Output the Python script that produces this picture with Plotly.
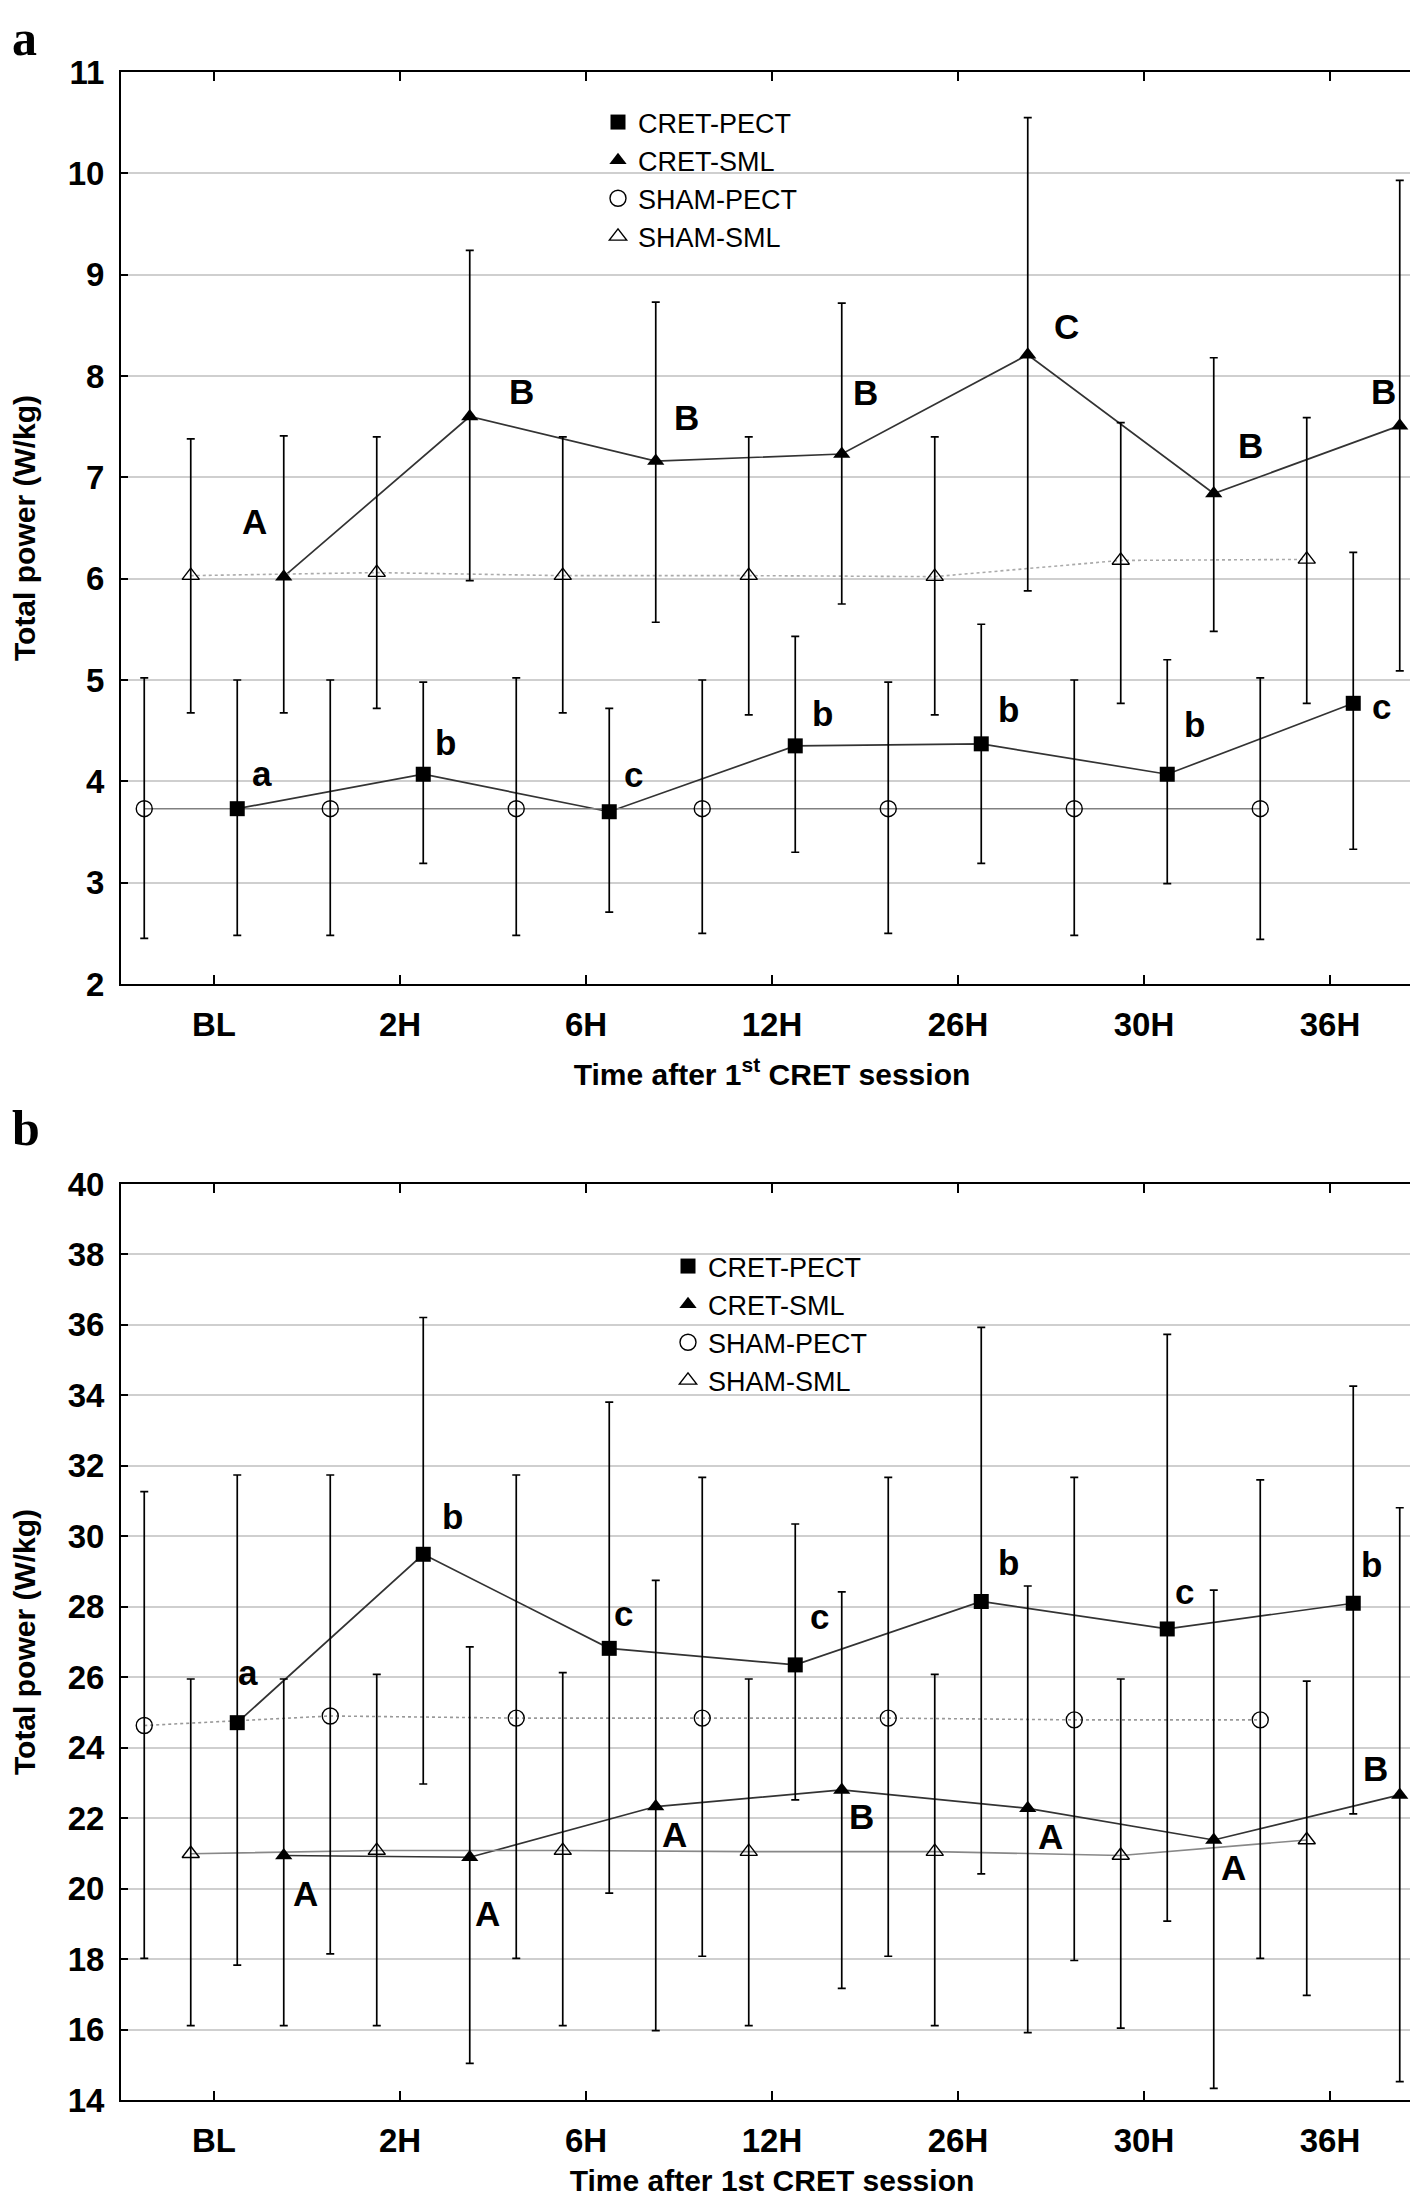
import plotly.graph_objects as go

# ---------------- data ----------------
categories = ["BL", "2H", "6H", "12H", "26H", "30H", "36H"]
series_names = ["CRET-PECT", "CRET-SML", "SHAM-PECT", "SHAM-SML"]

# Panel a
a_cret_pect_mean = [3.73, 4.07, 3.70, 4.35, 4.37, 4.07, 4.77]
a_cret_pect_hi = [5.00, 4.98, 4.72, 5.43, 5.55, 5.20, 6.26]
a_cret_pect_lo = [2.48, 3.19, 2.71, 3.30, 3.19, 2.99, 3.33]

a_cret_sml_mean = [6.02, 7.60, 7.16, 7.23, 8.21, 6.84, 7.51]
a_cret_sml_hi = [7.41, 9.24, 8.73, 8.72, 10.55, 8.18, 9.93]
a_cret_sml_lo = [4.675, 5.98, 5.57, 5.75, 5.88, 5.48, 5.09]

a_sham_pect_mean = [3.73, 3.73, 3.73, 3.73, 3.73, 3.73, 3.73]
a_sham_pect_hi = [5.02, 5.00, 5.02, 5.00, 4.98, 5.00, 5.02]
a_sham_pect_lo = [2.45, 2.48, 2.48, 2.50, 2.50, 2.48, 2.44]

a_sham_sml_mean = [6.03, 6.06, 6.03, 6.03, 6.02, 6.18, 6.19]
a_sham_sml_hi = [7.38, 7.40, 7.40, 7.40, 7.40, 7.54, 7.59]
a_sham_sml_lo = [4.675, 4.72, 4.675, 4.655, 4.655, 4.77, 4.77]

# Panel b
b_cret_pect_mean = [24.71, 29.49, 26.82, 26.35, 28.15, 27.37, 28.10]
b_cret_pect_hi = [31.74, 36.21, 33.81, 30.35, 35.93, 35.73, 34.26]
b_cret_pect_lo = [17.83, 22.97, 19.87, 22.52, 20.42, 19.08, 22.12]

b_cret_sml_mean = [20.94, 20.89, 22.33, 22.80, 22.28, 21.38, 22.66]
b_cret_sml_hi = [25.95, 26.86, 28.75, 28.42, 28.59, 28.47, 30.81]
b_cret_sml_lo = [16.11, 15.04, 15.97, 17.17, 15.91, 14.33, 14.52]

b_sham_pect_mean = [24.63, 24.90, 24.84, 24.84, 24.84, 24.79, 24.79]
b_sham_pect_hi = [31.27, 31.74, 31.74, 31.67, 31.67, 31.67, 31.60]
b_sham_pect_lo = [18.02, 18.15, 18.02, 18.08, 18.08, 17.96, 18.02]

b_sham_sml_mean = [20.99, 21.08, 21.08, 21.05, 21.05, 20.94, 21.38]
b_sham_sml_hi = [25.95, 26.08, 26.13, 25.95, 26.08, 25.95, 25.89]
b_sham_sml_lo = [16.11, 16.11, 16.11, 16.11, 16.11, 16.04, 16.97]

# significance letters
a_pect_letters = ["a", "b", "c", "b", "b", "b", "c"]
a_sml_letters = ["A", "B", "B", "B", "C", "B", "B"]
b_pect_letters = ["a", "b", "c", "c", "b", "c", "b"]
b_sml_letters = ["A", "A", "A", "B", "A", "A", "B"]

# ---------------- styling / layout ----------------
W, H = 1418, 2202
PL, PR = 113, 1415          # plot left/right (px)
A_TOP, A_BOT = 64, 976
B_TOP, B_BOT = 1176, 2092
MT, MB = A_TOP, H - B_BOT
PH = H - MT - MB

def py(y):   # pixel y -> paper y
    return (B_BOT - y) / PH

def px(x):   # pixel x -> paper x
    return (x - PL) / (PR - PL)

offsets = {"CRET-PECT": 0.125, "CRET-SML": 0.375, "SHAM-PECT": -0.375, "SHAM-SML": -0.125}
markers = {
    "CRET-PECT": dict(symbol="square", size=15, color="black"),
    "CRET-SML": dict(symbol="triangle-up", size=15, color="black"),
    "SHAM-PECT": dict(symbol="circle-open", size=16, color="black", line=dict(width=1.4)),
    "SHAM-SML": dict(symbol="triangle-up-open", size=15, color="black", line=dict(width=1.4)),
}
line_styles_a = {
    "CRET-PECT": dict(color="#333333", width=1.7),
    "CRET-SML": dict(color="#333333", width=1.7),
    "SHAM-PECT": dict(color="#808080", width=1.6),
    "SHAM-SML": dict(color="#aaaaaa", width=1.6, dash="dot"),
}
line_styles_b = {
    "CRET-PECT": dict(color="#333333", width=1.7),
    "CRET-SML": dict(color="#333333", width=1.7),
    "SHAM-PECT": dict(color="#999999", width=1.6, dash="dot"),
    "SHAM-SML": dict(color="#888888", width=1.6),
}

FONT = "Liberation Sans, Arial, sans-serif"

fig = go.Figure()

def add_panel(data, xa, ya, legend, line_styles):
    for name in series_names:
        mean, hi, lo = data[name]
        xs = [i + offsets[name] for i in range(len(categories))]
        fig.add_trace(go.Scatter(
            x=xs, y=mean, mode="lines", line=line_styles[name],
            showlegend=False, xaxis=xa, yaxis=ya, hoverinfo="skip"))
    for name in series_names:
        mean, hi, lo = data[name]
        xs = [i + offsets[name] for i in range(len(categories))]
        fig.add_trace(go.Scatter(
            x=xs, y=mean, mode="markers", name=name, marker=markers[name],
            error_y=dict(type="data", symmetric=False,
                         array=[h - m for h, m in zip(hi, mean)],
                         arrayminus=[m - l for m, l in zip(mean, lo)],
                         color="black", thickness=1.7, width=4),
            xaxis=xa, yaxis=ya, legend=legend))

data_a = {
    "CRET-PECT": (a_cret_pect_mean, a_cret_pect_hi, a_cret_pect_lo),
    "CRET-SML": (a_cret_sml_mean, a_cret_sml_hi, a_cret_sml_lo),
    "SHAM-PECT": (a_sham_pect_mean, a_sham_pect_hi, a_sham_pect_lo),
    "SHAM-SML": (a_sham_sml_mean, a_sham_sml_hi, a_sham_sml_lo),
}
data_b = {
    "CRET-PECT": (b_cret_pect_mean, b_cret_pect_hi, b_cret_pect_lo),
    "CRET-SML": (b_cret_sml_mean, b_cret_sml_hi, b_cret_sml_lo),
    "SHAM-PECT": (b_sham_pect_mean, b_sham_pect_hi, b_sham_pect_lo),
    "SHAM-SML": (b_sham_sml_mean, b_sham_sml_hi, b_sham_sml_lo),
}
add_panel(data_a, "x", "y", "legend", line_styles_a)
add_panel(data_b, "x2", "y2", "legend2", line_styles_b)

# letter annotations: pixel shifts (dx, dy-up) relative to the point
a_pect_shift = [(25, 35), (22, 32), (24, 37), (27, 32), (27, 34), (27, 50), (28, -3)]
a_sml_shift = [(-29, 55), (52, 25), (31, 44), (24, 62), (39, 28), (37, 48), (-16, 34)]
b_pect_shift = [(11, 50), (29, 38), (14, 35), (24, 48), (27, 39), (17, 37), (18, 39)]
b_sml_shift = [(22, -38), (18, -56), (19, -28), (20, -27), (23, -28), (20, -27), (-24, 26)]

annotations = []
def add_letters(letters, means, name, shifts, xref, yref):
    for i, (t, m, (dx, dy)) in enumerate(zip(letters, means, shifts)):
        annotations.append(dict(
            x=i + offsets[name], y=m, xref=xref, yref=yref, text="<b>" + t + "</b>",
            showarrow=False, xshift=dx, yshift=dy,
            font=dict(family=FONT, size=35, color="black"),
            xanchor="center", yanchor="middle"))

add_letters(a_pect_letters, a_cret_pect_mean, "CRET-PECT", a_pect_shift, "x", "y")
add_letters(a_sml_letters, a_cret_sml_mean, "CRET-SML", a_sml_shift, "x", "y")
add_letters(b_pect_letters, b_cret_pect_mean, "CRET-PECT", b_pect_shift, "x2", "y2")
add_letters(b_sml_letters, b_cret_sml_mean, "CRET-SML", b_sml_shift, "x2", "y2")

# panel letters
serif = "Liberation Serif, Times New Roman, serif"
annotations.append(dict(x=px(2), y=py(0), xref="paper", yref="paper", text="<b>a</b>",
                        showarrow=False, xanchor="left", yanchor="top",
                        font=dict(family=serif, size=50, color="black")))
annotations.append(dict(x=px(2), y=py(1090), xref="paper", yref="paper", text="<b>b</b>",
                        showarrow=False, xanchor="left", yanchor="top",
                        font=dict(family=serif, size=50, color="black")))

tickfont = dict(family=FONT, size=33, color="black")
titlefont = dict(family=FONT, size=30, color="black")

def xaxis_cfg(anchor, title, standoff):
    return dict(
        anchor=anchor, domain=[0, 1], range=[-0.5, 6.5],
        tickmode="array", tickvals=list(range(len(categories))),
        ticktext=["<b>" + c + "</b>" for c in categories],
        ticks="inside", ticklen=9, tickwidth=1.5, tickcolor="black",
        showline=True, linecolor="black", linewidth=2, mirror="ticks",
        showgrid=False, zeroline=False, tickfont=tickfont,
        ticklabelstandoff=10,
        title=dict(text=title, font=titlefont, standoff=standoff))

def yaxis_cfg(anchor, domain, rng, dtick):
    return dict(
        anchor=anchor, domain=domain, range=rng, dtick=dtick, tick0=rng[0],
        ticks="inside", ticklen=7, tickwidth=1.5, tickcolor="black",
        showline=True, linecolor="black", linewidth=2, mirror="ticks",
        showgrid=True, gridcolor="#cfcfcf", gridwidth=1.5, zeroline=False,
        tickfont=tickfont, ticklabelstandoff=8, tickprefix="<b>", ticksuffix="</b>",
        title=dict(text="<b>Total power (W/kg)</b>", font=titlefont, standoff=27))

legend_font = dict(family=FONT, size=27, color="black")

fig.update_layout(
    width=W, height=H,
    margin=dict(l=PL, r=W - PR, t=MT, b=MB, autoexpand=False),
    paper_bgcolor="white", plot_bgcolor="white",
    showlegend=True,
    xaxis=xaxis_cfg("y", "<b>Time after 1<sup>st</sup> CRET session</b>", 22),
    yaxis=yaxis_cfg("x", [py(A_BOT), 1], [2, 11], 1),
    xaxis2=xaxis_cfg("y2", "<b>Time after 1st CRET session</b>", 12),
    yaxis2=yaxis_cfg("x2", [0, py(B_TOP)], [14, 40], 2),
    legend=dict(x=px(590), y=py(90), xanchor="left", yanchor="top",
                font=legend_font, bgcolor="rgba(0,0,0,0)", tracegroupgap=0,
                itemwidth=30),
    legend2=dict(x=px(660), y=py(1234), xanchor="left", yanchor="top",
                 font=legend_font, bgcolor="rgba(0,0,0,0)", tracegroupgap=0,
                 itemwidth=30),
    annotations=annotations,
)

fig.write_html("out.html")
